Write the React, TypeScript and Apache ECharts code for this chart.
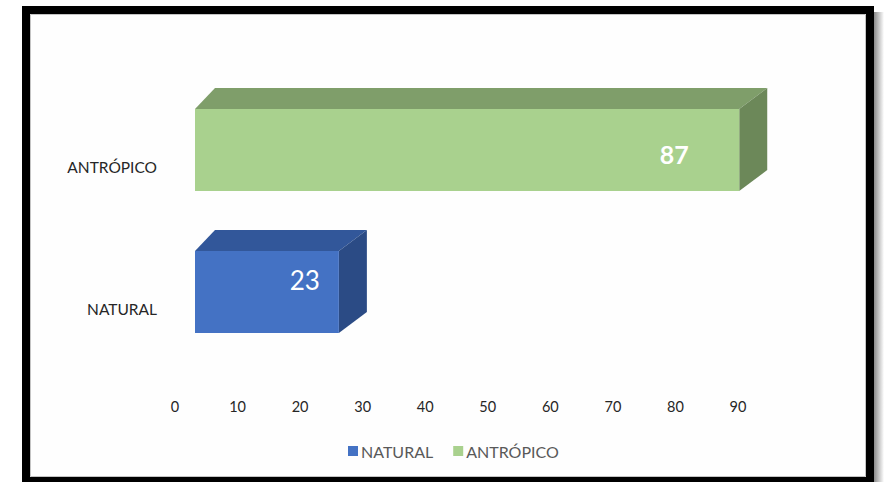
import React, { useEffect, useRef } from "react";
import * as echarts from "echarts";

const categories = ["NATURAL", "ANTRÓPICO"];
const seriesNames = ["NATURAL", "ANTRÓPICO"];
const naturalValues = [23];
const antropicoValues = [87];
const axisMin = 0;
const axisMax = 90;
const axisInterval = 10;

const seriesStyles = [
  { front: "#4472C4", top: "#32579a", side: "#2b4b85", labelDx: -34, labelDy: -12, weight: "normal", size: 26 },
  { front: "#A9D18E", top: "#7f9e6a", side: "#6c8859", labelDx: -65, labelDy: 4, weight: "bold", size: 25 },
];

const FONT = "Lato, 'Open Sans', sans-serif";

function makeRenderItem(styleIdx: number) {
  const st = seriesStyles[styleIdx];
  return (params: any, api: any) => {
    const v = api.value(0);
    const cat = api.value(1);
    const p0 = api.coord([0, cat]);
    const p1 = api.coord([v, cat]);
    const band = api.size([0, 1])[1];
    const shift = 20;
    const x0 = p0[0] + shift;
    const x1 = p1[0] + shift;
    const yc = p1[1] - 17;
    const h = band * 0.578;
    const yt = yc - h / 2;
    const yb = yc + h / 2;
    const dxL = 20;
    const dxR = 28;
    const dy = 21;
    return {
      type: "group",
      children: [
        {
          type: "polygon",
          shape: { points: [[x0, yt], [x1, yt], [x1 + dxR, yt - dy], [x0 + dxL, yt - dy]] },
          style: { fill: st.top },
        },
        {
          type: "polygon",
          shape: { points: [[x1, yt], [x1 + dxR, yt - dy], [x1 + dxR, yb - dy], [x1, yb]] },
          style: { fill: st.side },
        },
        {
          type: "rect",
          shape: { x: x0, y: yt, width: x1 - x0, height: yb - yt },
          style: { fill: st.front },
        },
        {
          type: "text",
          style: {
            text: String(v),
            x: x1 + st.labelDx,
            y: yc + st.labelDy,
            fill: "#ffffff",
            fontSize: st.size,
            fontWeight: st.weight,
            fontFamily: FONT,
            align: "center",
            verticalAlign: "middle",
          },
        },
      ],
    };
  };
}

export default function App() {
  const ref = useRef<HTMLDivElement>(null);
  useEffect(() => {
    if (!ref.current) return;
    const chart = echarts.init(ref.current, null, { renderer: "svg" });
    const valueSets = [naturalValues, antropicoValues];
    const option: any = {
      animation: false,
      backgroundColor: "#ffffff",
      textStyle: { fontFamily: FONT },
      graphic: [
        {
          type: "rect",
          shape: { x: 874, y: 12, width: 10, height: 475 },
          style: {
            fill: new echarts.graphic.LinearGradient(0, 0, 1, 0, [
              { offset: 0, color: "#8a8a8a" },
              { offset: 1, color: "#ffffff" },
            ]),
          },
          z: -1,
        },
        {
          type: "rect",
          shape: { x: 26, y: 10, width: 844, height: 471 },
          style: { fill: "#fefefe", stroke: "#000000", lineWidth: 8 },
          z: -1,
        },
        {
          type: "rect",
          shape: { x: 30.5, y: 14.5, width: 835, height: 462 },
          style: { fill: "none", stroke: "#c4c4c4", lineWidth: 1 },
          z: -1,
        },
      ],
      legend: {
        data: seriesNames,
        left: 343,
        top: 438,
        icon: "rect",
        itemWidth: 10,
        itemHeight: 10,
        itemGap: 20,
        textStyle: { fontSize: 16, color: "#595959", fontFamily: FONT, padding: [0, 0, 0, -2] },
      },
      grid: { left: 175, right: 146, top: 96, bottom: 102 },
      xAxis: {
        type: "value",
        min: axisMin,
        max: axisMax,
        interval: axisInterval,
        axisLine: { show: false },
        axisTick: { show: false },
        splitLine: { show: false },
        axisLabel: { color: "#262626", fontSize: 14.5, fontFamily: FONT, margin: 19 },
      },
      yAxis: {
        type: "category",
        data: categories,
        axisLine: { show: false },
        axisTick: { show: false },
        splitLine: { show: false },
        axisLabel: { color: "#262626", fontSize: 15.5, fontFamily: FONT, margin: 18 },
      },
      series: seriesNames.map((name, i) => ({
        type: "custom",
        name,
        clip: false,
        itemStyle: { color: seriesStyles[i].front },
        encode: { x: 0, y: 1 },
        renderItem: makeRenderItem(i),
        data: valueSets[i].map((v) => [v, categories.indexOf(name)]),
      })),
    };
    chart.setOption(option);
    return () => chart.dispose();
  }, []);
  return (
    <div
      ref={ref}
      style={{ position: "fixed", left: 0, top: 0, width: 884, height: 482 }}
    />
  );
}
